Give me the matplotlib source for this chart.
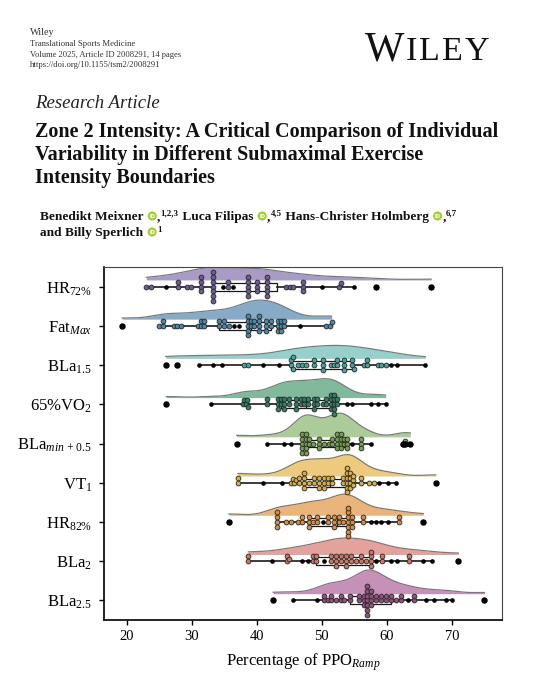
import numpy as np
import matplotlib.pyplot as plt
from matplotlib.patches import Circle
from matplotlib.transforms import IdentityTransform

W, H = 546, 680

# ---- data (percentage of PPO_Ramp) ----
labels = ['HR$_{72\\%}$', 'Fat$_{Max}$', 'BLa$_{1.5}$', '65%VO$_2$',
          'BLa$_{min\\,+\\,0.5}$', 'VT$_1$', 'HR$_{82\\%}$', 'BLa$_2$', 'BLa$_{2.5}$']

hr72 = [23.0, 23.7, 26.1, 27.9, 27.9, 29.2, 29.9, 31.4, 31.4, 31.4, 31.4,
        33.2, 33.2, 33.2, 33.2, 33.2, 33.2, 33.2, 34.8, 35.6, 35.6, 36.4,
        38.6, 38.6, 38.6, 38.6, 38.6, 40.0, 40.0, 40.0, 41.6, 41.6, 41.6, 41.6, 41.6,
        44.5, 45.1, 45.6, 47.1, 47.1, 47.1, 50.0, 52.7, 53.0, 55.0, 58.3, 66.8]
fatmax = [19.3, 25.0, 25.6, 25.6, 27.2, 27.8, 28.3, 30.9, 31.4, 31.4, 31.9, 31.9,
          34.2, 34.2, 35.0, 35.0, 35.7, 36.5, 37.3, 38.6, 38.6, 38.6, 38.6, 38.6,
          39.1, 39.1, 39.6, 39.6, 40.4, 40.4, 40.4, 40.4, 41.4, 41.4, 41.4, 42.2, 42.2,
          43.2, 43.2, 43.2, 43.7, 43.7, 43.7, 44.2, 44.2, 46.7, 50.6, 51.2, 51.5]
bla15 = [26.0, 27.8, 31.1, 33.2, 34.7, 38.0, 38.7, 40.9, 43.4, 45.2, 45.2, 45.5, 45.5,
         46.3, 46.9, 47.6, 48.8, 48.8, 50.1, 50.1, 50.1, 51.4, 51.9, 52.4, 52.4,
         53.4, 53.4, 53.4, 54.7, 54.7, 55.0, 56.5, 57.0, 57.0, 58.6, 59.1, 59.8,
         60.6, 61.6, 65.9]
vo65 = [26.1, 32.9, 37.8, 38.0, 38.3, 38.5, 38.7, 41.6, 41.6, 43.2, 43.2, 43.2, 43.7,
        43.7, 44.2, 44.2, 44.2, 45.0, 45.0, 46.0, 46.0, 46.0, 46.8, 46.8, 47.3, 47.3,
        47.8, 47.8, 48.8, 48.8, 48.8, 49.3, 49.3, 50.1, 50.6, 50.6, 51.4, 51.4, 51.4,
        51.4, 51.9, 51.9, 51.9, 51.9, 51.9, 52.4, 52.4, 53.9, 54.7, 57.5, 58.6, 59.8]
blamin = [36.9, 41.5, 44.2, 45.2, 47.0, 47.0, 47.0, 47.0, 47.0, 47.5, 47.5, 47.5, 47.5,
          47.5, 48.0, 48.0, 48.6, 49.6, 49.6, 49.6, 50.4, 51.1, 51.6, 51.6, 52.4, 52.4,
          52.4, 52.4, 52.9, 52.9, 52.9, 52.9, 53.4, 53.4, 53.9, 53.9, 53.9, 54.7, 56.0,
          56.0, 56.0, 57.5, 62.4, 62.8, 63.6]
vt1 = [37.1, 37.1, 40.9, 43.8, 45.2, 45.5, 45.7, 46.0, 46.5, 46.5, 47.3, 47.3, 47.3,
       47.3, 48.0, 48.8, 48.8, 49.6, 49.6, 49.6, 50.4, 50.4, 50.4, 50.9, 50.9, 51.6,
       51.6, 53.2, 53.2, 53.9, 53.9, 53.9, 53.9, 53.9, 53.9, 54.4, 54.4, 54.4, 54.4,
       54.8, 54.8, 54.8, 56.0, 56.0, 57.3, 58.0, 58.8, 60.1, 61.4, 67.5]
hr82 = [35.7, 43.1, 43.1, 43.1, 43.1, 44.5, 45.2, 46.3, 47.0, 47.0, 48.0, 48.0, 48.0,
        48.6, 49.3, 49.3, 50.1, 50.9, 50.9, 51.9, 51.9, 51.9, 52.7, 52.7, 53.2, 54.0,
        54.0, 54.0, 54.0, 54.0, 54.0, 54.0, 54.7, 54.7, 54.7, 56.3, 56.3, 57.5, 58.3,
        59.1, 60.1, 61.9, 61.9, 65.6]
bla2 = [38.7, 38.7, 42.4, 44.6, 44.6, 45.0, 47.0, 47.8, 48.6, 48.6, 49.1, 49.1, 50.4,
        51.4, 51.4, 52.2, 52.2, 52.2, 52.9, 52.9, 53.7, 53.7, 53.7, 54.5, 54.5, 55.2,
        56.0, 56.0, 56.8, 57.5, 57.5, 57.5, 57.5, 58.3, 59.3, 59.3, 60.6, 61.6, 63.4,
        63.4, 65.5, 67.0, 71.0]
bla25 = [42.5, 45.6, 49.3, 50.4, 50.4, 50.9, 51.4, 51.4, 52.2, 52.9, 52.9, 53.4, 54.3,
         54.3, 55.7, 55.7, 56.5, 56.5, 56.5, 57.0, 57.0, 57.0, 57.0, 57.0, 57.0, 57.0,
         57.5, 57.5, 57.5, 57.5, 58.3, 58.3, 59.1, 59.1, 59.8, 59.8, 60.6, 60.6, 61.4,
         62.1, 62.1, 63.2, 64.2, 64.2, 66.0, 67.3, 69.1, 70.0, 75.0]
rows = [hr72, fatmax, bla15, vo65, blamin, vt1, hr82, bla2, bla25]

violin_colors = ['#a89bc6', '#86abc6', '#95d0cb', '#80b99c', '#abcc98',
                 '#edca7d', '#eab57a', '#e3a39c', '#c691b8']
point_colors = ['#6c5c9c', '#4b87aa', '#45a4a0', '#2f7f62', '#74a04c',
                '#dbae40', '#db8d3f', '#d3745f', '#94507f']

plt.rcParams['font.family'] = 'Liberation Serif'
plt.rcParams['mathtext.fontset'] = 'custom'
plt.rcParams['mathtext.rm'] = 'Liberation Serif'
plt.rcParams['mathtext.it'] = 'Liberation Serif:italic'
plt.rcParams['mathtext.bf'] = 'Liberation Serif:bold'

fig = plt.figure(figsize=(W / 100, H / 100), dpi=100)
renderer = fig.canvas.get_renderer()


def fx(x):
    return x / W


def fy(y):
    return 1 - y / H


def fit_text(x, y, s, target_w, size, **kw):
    t = fig.text(fx(x), fy(y), s, fontsize=size, **kw)
    w = t.get_window_extent(renderer).width
    t.set_fontsize(size * target_w / w)
    return t


def seq_text(x, y, pieces):
    # pieces: (kind, content, kwargs); y is baseline in pixels from top
    for kind, s, kw in pieces:
        if kind == 'orcid':
            r = 4.6
            fig.add_artist(Circle((x + 1 + r, H - (y - 4.0)), r, transform=IdentityTransform(),
                                  color='#a6ce39', lw=0))
            fig.text(fx(x + 1 + r), fy(y - 4.0), 'iD', fontsize=3.6, color='white',
                     ha='center', va='center', fontweight='bold', family='DejaVu Sans')
            x += 2 * r + 1.5
            continue
        kw = dict(kw)
        dy = kw.pop('rise', 0)
        gap = kw.pop('gap', 0)
        t = fig.text(fx(x), fy(y - dy), s, va='baseline', ha='left', **kw)
        x += t.get_window_extent(renderer).width + gap
    return x


# ---- page header ----
head = ['Wiley', 'Translational Sports Medicine',
        'Volume 2025, Article ID 2008291, 14 pages', 'https://doi.org/10.1155/tsm2/2008291']
head_w = [25, 106, 151, 131]
for k, (s, w) in enumerate(zip(head, head_w)):
    fit_text(30, 35 + 10.8 * k, s, w, 6.2, color='#333333', va='baseline')

lkw = dict(fontsize=24.5, color='#111111', gap=2.2)
seq_text(365, 60.5, [('t', 'W', dict(fontsize=30, color='#111111', gap=1.0)),
                     ('t', 'I', lkw), ('t', 'L', lkw), ('t', 'E', lkw), ('t', 'Y', lkw)])

fit_text(35, 108, 'Research Article', 125, 13.5, style='italic', color='#222222', va='baseline')
title = ['Zone 2 Intensity: A Critical Comparison of Individual',
         'Variability in Different Submaximal Exercise', 'Intensity Boundaries']
t0 = fit_text(35, 136.5, title[0], 461, 15.3, fontweight='bold', color='#111111', va='baseline')
for k, s in enumerate(title[1:]):
    fig.text(fx(35), fy(160 + 23.5 * k), s, fontsize=t0.get_fontsize(), fontweight='bold',
             color='#111111', va='baseline')

bkw = dict(fontsize=9.6, fontweight='bold', color='#111111')
skw = dict(fontsize=6.4, fontweight='bold', color='#111111', rise=4.3)
seq_text(40, 220, [('t', 'Benedikt Meixner ', bkw), ('orcid', '', {}),
                   ('t', ',', bkw), ('t', '1,2,3', skw),
                   ('t', ' Luca Filipas ', bkw), ('orcid', '', {}),
                   ('t', ',', bkw), ('t', '4,5', skw),
                   ('t', ' Hans-Christer Holmberg ', bkw), ('orcid', '', {}),
                   ('t', ',', bkw), ('t', '6,7', skw)])
seq_text(40, 236, [('t', 'and Billy Sperlich ', bkw), ('orcid', '', {}),
                   ('t', '1', skw)])

# ---- raincloud chart ----
ax = fig.add_axes([104 / W, 1 - 620 / H, 398 / W, 353 / H])
ax.set_xlim(16.5, 77.7)
ax.set_ylim(8.5, -0.5)

px_x = 398 / (77.7 - 16.5)
px_y = 353 / 9.0


def swarm(vals, dx=3.0, dy=4.8):
    # beeswarm with an elliptic footprint: dx px wide, dy px tall
    xs = np.asarray(vals) * px_x * dy / dx
    d = dy
    offs = np.zeros(len(xs))
    placed = []
    for i in np.argsort(xs, kind='stable'):
        x = xs[i]
        nb = [(a, b) for a, b in placed if abs(a - x) < d]
        cands = [0.0]
        for a, b in nb:
            h = np.sqrt(d * d - (a - x) ** 2)
            cands += [b - h, b + h]
        cands.sort(key=abs)
        for c in cands:
            if all((a - x) ** 2 + (b - c) ** 2 >= d * d - 1e-6 for a, b in nb):
                break
        placed.append((x, c))
        offs[i] = c
    return offs / px_y


def kde(vals, grid, bw_adj=0.7):
    v = np.asarray(vals)
    h = bw_adj * v.std(ddof=1) * len(v) ** (-0.2)
    z = (grid[:, None] - v[None, :]) / h
    return np.exp(-0.5 * z * z).sum(1) / (len(v) * h * np.sqrt(2 * np.pi))


for i, vals in enumerate(rows):
    v = np.asarray(vals)
    grid = np.linspace(v.min(), v.max(), 300)
    top = i - 0.17 - 7.0 * kde(v, grid)
    ax.fill_between(grid, i - 0.17, top, color=violin_colors[i], lw=0, zorder=1)
    ax.plot(grid, top, color='#7a7a7a', lw=0.9, zorder=1.5)

    ax.boxplot([v], positions=[i], orientation='horizontal', widths=0.2, whis=1.5,
               showcaps=False, manage_ticks=False,
               boxprops=dict(color='#1a1a1a', lw=0.9),
               whiskerprops=dict(color='#1a1a1a', lw=1.2),
               medianprops=dict(color='#1a1a1a', lw=0.9),
               flierprops=dict(marker='o', markerfacecolor='black', markeredgecolor='black',
                               markersize=3.6, zorder=5),
               zorder=2)

    offs = swarm(v)
    gap = np.array([np.min(np.abs(np.delete(v, k) - v[k])) for k in range(len(v))])
    lone = gap >= 0.75
    ax.scatter(v[~lone], i + offs[~lone], s=12, color=point_colors[i],
               edgecolor='#262626', lw=0.6, zorder=3)
    ax.scatter(v[lone], i + offs[lone], s=11, color='black', lw=0, zorder=3)

ax.set_yticks(range(len(labels)))
ax.set_yticklabels(labels, fontsize=12)
ax.set_xticks([20, 30, 40, 50, 60, 70])
ax.tick_params(axis='x', labelsize=10.5, length=3.5, width=1, pad=4)
ax.tick_params(axis='y', length=3.5, width=1, pad=5)
ax.set_xlabel('Percentage of PPO$_{Ramp}$', fontsize=12, labelpad=6)
for side in ['left', 'bottom']:
    ax.spines[side].set_linewidth(1.2)
for side in ['top', 'right']:
    ax.spines[side].set_linewidth(0.8)
    ax.spines[side].set_color('#444444')

fig.savefig('out.png', dpi=100)
